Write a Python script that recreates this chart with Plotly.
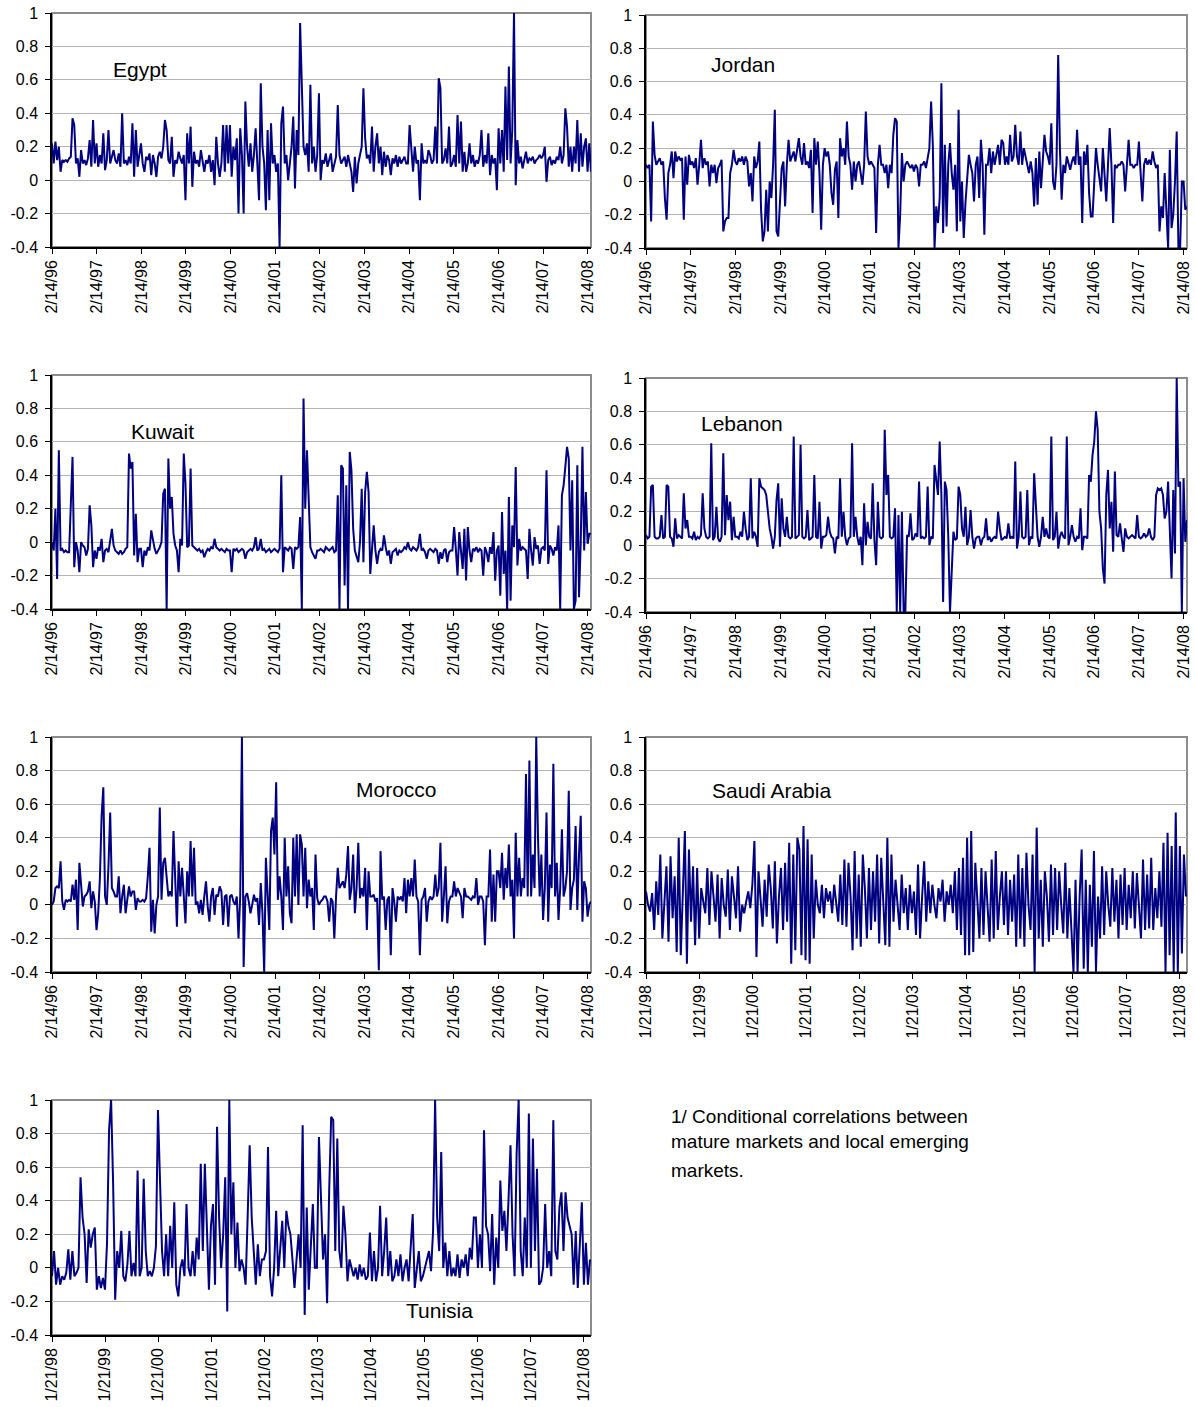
import pandas as pd
import plotly.graph_objects as go

# conditional correlations, one value every 2 weeks from 2/14/96 (26 per year)
egypt = [0.22, 0.1, 0.23, 0.12, 0.2, 0.05, 0.12, 0.11, 0.12, 0.11, 0.13, 0.14, 0.37, 0.33, 0.1, 0.13, 0.02, 0.18, 0.1, 0.12, 0.09, 0.13, 0.24, 0.08, 0.36, 0.1,
         0.22, 0.08, 0.15, 0.1, 0.28, 0.06, 0.12, 0.3, 0.1, 0.15, 0.18, 0.12, 0.1, 0.16, 0.08, 0.4, 0.1, 0.12, 0.09, 0.14, 0.1, 0.34, 0.02, 0.3, 0.08, 0.15,
         0.22, 0.1, 0.05, 0.14, 0.12, 0.16, 0.03, 0.15, 0.1, 0.02, 0.14, 0.17, 0.13, 0.2, 0.36, 0.3, 0.12, 0.1, 0.26, 0.02, 0.12, 0.1, 0.17, 0.13, 0.1, 0.15,
         -0.12, 0.28, 0.1, 0.32, -0.04, 0.17, 0.1, 0.12, 0.08, 0.18, 0.1, 0.05, 0.12, 0.1, 0.15, 0.05, 0.12, -0.03, 0.26, 0.1, 0.02, 0.1, 0.33, 0.05, 0.33, 0.1,
         0.33, 0.02, 0.2, 0.12, 0.25, -0.2, 0.31, 0.15, -0.2, 0.47, 0.2, 0.08, 0.22, 0.05, 0.15, 0.31, 0.1, -0.12, 0.58, 0.2, 0.1, -0.18, 0.3, -0.12, 0.34, 0.1,
         0.15, 0.05, 0.1, -0.4, 0.34, 0.44, 0.1, 0.15, 0.0, 0.12, 0.2, 0.38, -0.05, 0.3, 0.15, 0.94, 0.52, 0.2, 0.15, 0.22, 0.05, 0.57, 0.1, 0.2, 0.05, 0.15,
         0.52, 0.0, 0.12, 0.1, 0.16, 0.08, 0.12, 0.16, 0.05, 0.1, 0.14, 0.45, 0.15, 0.1, 0.12, 0.14, 0.08, 0.15, 0.1, 0.05, -0.07, 0.14, -0.02, 0.1, 0.15, 0.2,
         0.55, 0.25, 0.13, 0.15, 0.1, 0.32, 0.05, 0.2, 0.28, 0.1, 0.2, 0.03, 0.17, 0.08, 0.15, 0.12, 0.03, 0.13, 0.1, 0.15, 0.08, 0.14, 0.1, 0.12, 0.14, 0.1,
         0.1, 0.33, 0.18, 0.05, 0.2, 0.1, 0.12, -0.12, 0.22, 0.1, 0.12, 0.1, 0.18, 0.15, 0.1, 0.12, 0.32, 0.1, 0.61, 0.55, 0.1, 0.12, 0.19, 0.1, 0.32, 0.08,
         0.1, 0.15, 0.08, 0.39, 0.1, 0.35, 0.05, 0.17, 0.05, 0.1, 0.22, 0.1, 0.15, 0.08, 0.12, 0.1, 0.15, 0.3, 0.08, 0.15, 0.1, 0.28, 0.03, 0.15, 0.1, 0.13,
         -0.06, 0.31, 0.1, 0.3, 0.05, 0.56, 0.12, 0.68, 0.1, 0.3, 1.0, -0.03, 0.24, 0.1, 0.14, 0.07, 0.12, 0.17, 0.1, 0.13, 0.12, 0.14, 0.1, 0.12, 0.13, 0.15,
         0.13, 0.15, 0.2, -0.01, 0.12, 0.14, 0.09, 0.12, 0.1, 0.14, 0.12, 0.2, 0.1, 0.15, 0.43, 0.32, 0.08, 0.2, 0.05, 0.2, 0.1, 0.36, 0.05, 0.28, 0.08, 0.2,
         0.25, 0.05, 0.22, 0.05]

jordan = [0.1, 0.08, 0.1, -0.24, 0.36, 0.16, 0.1, 0.12, 0.14, 0.1, 0.12, -0.1, -0.23, 0.05, 0.1, 0.18, 0.02, 0.18, 0.12, 0.15, 0.13, 0.14, -0.23, 0.15, -0.02, 0.16,
          0.1, 0.12, 0.08, 0.14, -0.02, 0.1, 0.25, 0.08, 0.14, 0.1, 0.12, -0.03, 0.1, 0.05, 0.1, -0.01, 0.08, 0.1, 0.13, -0.3, -0.24, -0.22, -0.22, 0.05, 0.1, 0.19,
          0.12, 0.1, 0.14, 0.12, 0.15, 0.1, 0.15, 0.12, -0.03, 0.05, -0.12, 0.15, 0.08, 0.12, 0.24, -0.17, -0.36, -0.3, -0.05, -0.3, 0.0, -0.1, 0.1, 0.43, -0.3, -0.33,
          -0.1, 0.08, 0.12, -0.15, 0.1, 0.25, 0.12, 0.15, 0.18, 0.12, 0.2, 0.26, 0.15, 0.1, 0.23, 0.1, 0.12, 0.08, 0.19, -0.19, 0.26, 0.1, 0.24, 0.05, -0.29, 0.1,
          0.2, 0.15, 0.18, 0.1, -0.07, -0.14, 0.07, 0.12, -0.22, 0.26, 0.15, 0.2, 0.1, 0.36, 0.15, 0.1, -0.05, 0.12, 0.0, 0.1, 0.12, 0.05, -0.02, 0.1, 0.42, 0.15,
          0.1, 0.12, 0.1, 0.08, -0.31, 0.1, 0.22, 0.1, 0.1, 0.05, 0.1, -0.04, 0.1, 0.05, 0.28, 0.38, 0.36, -0.4, -0.2, 0.17, 0.0, 0.1, 0.12, 0.1, 0.08, 0.1,
          0.06, 0.1, 0.08, -0.03, 0.1, 0.1, 0.12, 0.08, 0.13, 0.2, 0.48, 0.22, -0.4, -0.15, -0.25, -0.1, 0.59, -0.31, 0.22, -0.27, 0.1, 0.23, 0.05, -0.05, 0.1, -0.3,
          0.43, -0.24, 0.0, -0.34, -0.13, 0.05, 0.16, 0.1, 0.05, -0.12, 0.1, 0.15, -0.1, 0.25, 0.1, -0.32, 0.1, 0.1, 0.2, 0.05, 0.18, 0.1, 0.15, 0.22, 0.1, 0.25,
          0.23, 0.1, 0.15, 0.1, 0.28, 0.12, 0.15, 0.34, 0.15, 0.1, 0.3, 0.1, 0.2, 0.15, 0.1, 0.05, 0.12, 0.05, -0.15, 0.14, -0.14, 0.18, -0.04, 0.1, 0.28, 0.18,
          0.15, 0.1, 0.35, 0.0, -0.05, 0.1, 0.76, 0.2, -0.11, 0.1, 0.05, 0.15, 0.1, 0.07, 0.12, 0.15, 0.1, 0.31, 0.1, 0.15, -0.25, 0.18, 0.1, 0.22, -0.07, -0.21,
          -0.21, 0.05, 0.2, 0.1, 0.0, -0.06, 0.2, 0.05, -0.12, 0.1, 0.32, 0.1, -0.25, 0.1, 0.08, 0.1, 0.1, 0.12, 0.1, -0.06, 0.12, 0.25, 0.1, 0.1, 0.08, 0.1,
          0.1, 0.24, 0.05, -0.12, 0.1, 0.14, 0.1, 0.13, 0.1, 0.18, 0.12, 0.08, 0.1, -0.3, -0.15, -0.22, 0.05, -0.2, -0.4, 0.19, -0.28, -0.2, 0.0, 0.3, -0.4, -0.4,
          0.0, 0.0, -0.17, -0.15]

kuwait = [0.0, -0.05, 0.2, -0.22, 0.55, -0.05, -0.04, -0.06, -0.05, -0.06, -0.06, 0.29, 0.51, -0.15, 0.0, -0.05, -0.18, 0.0, -0.02, -0.03, -0.08, -0.04, 0.22, 0.1, -0.15, -0.05,
          -0.1, -0.03, -0.05, 0.02, -0.12, -0.05, -0.04, -0.06, 0.0, 0.08, -0.02, -0.05, -0.06, -0.07, -0.05, -0.07, -0.06, -0.04, -0.03, 0.53, 0.44, 0.48, -0.08, 0.17, -0.12, -0.04,
          -0.04, -0.15, -0.05, -0.08, -0.03, -0.05, 0.07, 0.0, -0.04, -0.07, -0.05, -0.03, 0.0, 0.29, 0.32, -0.4, 0.5, 0.2, 0.27, 0.05, -0.02, -0.05, -0.18, 0.02, -0.02, 0.53,
          0.35, -0.03, -0.02, 0.44, -0.02, -0.03, -0.04, -0.05, -0.04, -0.06, -0.05, -0.09, -0.06, -0.04, -0.05, -0.03, -0.04, 0.02, -0.03, -0.04, -0.05, -0.04, -0.05, -0.06, -0.04, -0.05,
          -0.05, -0.18, -0.04, -0.05, -0.04, -0.06, -0.05, -0.04, -0.05, -0.1, -0.06, -0.05, -0.04, -0.05, -0.03, 0.03, -0.05, -0.04, 0.02, -0.05, -0.04, -0.06, -0.05, -0.04, -0.06, -0.05,
          -0.04, -0.05, -0.06, -0.04, 0.4, -0.18, -0.03, -0.04, -0.05, -0.03, -0.04, -0.16, -0.03, -0.04, -0.03, 0.15, -0.4, 0.86, 0.2, 0.55, 0.2, -0.03, -0.06, -0.08, -0.1, -0.05,
          -0.05, -0.04, -0.05, -0.06, -0.03, -0.04, -0.05, -0.04, -0.03, -0.06, -0.05, 0.28, -0.4, 0.46, 0.44, -0.26, 0.34, -0.4, 0.54, 0.43, 0.08, -0.05, -0.08, -0.12, 0.0, 0.32,
          -0.12, 0.3, 0.42, 0.3, -0.19, -0.04, 0.1, -0.05, -0.13, -0.06, -0.04, -0.05, 0.04, -0.03, -0.08, -0.05, -0.13, -0.06, -0.05, -0.04, -0.08, -0.05, -0.06, -0.05, -0.03, -0.04,
          0.0, -0.04, -0.05, -0.03, -0.04, -0.05, -0.03, 0.05, -0.05, -0.04, -0.06, -0.1, -0.05, -0.04, -0.05, -0.06, -0.04, -0.05, -0.13, -0.06, -0.1, -0.05, -0.04, -0.12, -0.06, -0.05,
          -0.05, 0.09, -0.04, -0.2, 0.06, -0.05, -0.16, 0.08, -0.23, 0.09, -0.05, -0.12, -0.04, -0.05, -0.03, -0.06, -0.04, -0.05, -0.2, -0.03, -0.06, -0.12, -0.03, -0.07, 0.06, -0.23,
          -0.05, -0.02, -0.32, 0.18, -0.19, -0.05, -0.4, 0.27, -0.35, 0.1, -0.03, 0.45, -0.14, 0.02, -0.05, -0.03, -0.04, -0.05, -0.22, 0.08, -0.05, -0.14, 0.03, -0.04, -0.02, -0.13,
          -0.04, -0.03, -0.05, 0.43, -0.13, -0.02, -0.04, -0.08, -0.03, -0.05, 0.1, -0.4, 0.28, 0.34, 0.45, 0.57, 0.5, -0.05, 0.37, -0.4, -0.35, 0.46, -0.33, 0.0, 0.57, -0.05,
          0.3, -0.01, 0.05, 0.05]

lebanon = [0.06, 0.04, 0.05, 0.35, 0.36, 0.05, 0.04, 0.04, 0.05, 0.18, 0.04, 0.05, 0.36, 0.35, 0.05, 0.04, -0.01, 0.16, 0.04, 0.06, 0.05, 0.04, 0.31, 0.1, 0.15, 0.05,
           0.05, 0.04, 0.08, 0.03, 0.05, 0.04, 0.06, 0.31, 0.1, 0.05, 0.04, 0.05, 0.61, 0.03, 0.05, 0.23, 0.04, 0.02, 0.05, 0.55, 0.06, 0.3, 0.15, 0.26, 0.03, 0.17,
           0.05, 0.05, 0.04, 0.08, 0.05, 0.2, 0.1, 0.03, 0.05, 0.4, 0.04, 0.08, 0.05, -0.01, 0.4, 0.35, 0.34, 0.33, 0.3, 0.2, 0.1, 0.05, -0.02, 0.05, 0.27, 0.37,
           -0.01, 0.28, 0.1, 0.05, 0.17, 0.05, 0.04, 0.05, 0.65, 0.04, 0.05, 0.06, 0.6, 0.05, 0.04, 0.05, 0.21, 0.03, 0.04, 0.05, 0.42, 0.05, 0.04, 0.26, -0.02, 0.05,
           0.05, 0.06, 0.17, 0.08, 0.05, 0.04, -0.05, 0.05, 0.04, 0.4, 0.05, 0.2, 0.05, 0.0, 0.04, 0.05, 0.61, 0.05, 0.17, 0.05, 0.0, 0.05, -0.12, 0.25, 0.0, 0.14,
           0.05, 0.04, 0.37, 0.03, -0.12, 0.26, 0.05, 0.04, 0.05, 0.69, 0.3, 0.42, 0.05, 0.04, 0.05, 0.22, -0.4, 0.18, -0.4, 0.2, -0.4, -0.4, 0.06, 0.05, 0.19, 0.03,
           0.04, 0.07, 0.05, 0.38, 0.04, 0.05, 0.04, 0.05, 0.35, 0.0, 0.05, 0.04, 0.48, 0.4, 0.3, 0.62, 0.3, -0.34, 0.38, 0.33, 0.05, -0.4, -0.1, 0.08, 0.03, 0.04,
           0.35, 0.3, 0.1, 0.05, 0.23, 0.0, 0.05, 0.21, 0.05, -0.02, 0.04, 0.05, 0.05, 0.0, 0.04, 0.05, 0.16, 0.03, 0.05, 0.02, 0.04, 0.05, 0.04, 0.2, 0.1, 0.03,
           0.04, 0.05, 0.04, 0.13, 0.04, 0.05, 0.04, 0.5, -0.02, 0.05, 0.32, 0.05, 0.04, 0.05, 0.33, 0.0, 0.05, 0.04, 0.43, 0.2, 0.05, -0.01, 0.05, 0.17, 0.05, 0.1,
           0.05, 0.04, 0.65, 0.03, 0.05, 0.2, -0.02, 0.05, 0.08, 0.05, 0.04, 0.65, 0.0, 0.05, 0.12, 0.05, 0.02, 0.05, 0.04, 0.22, -0.03, 0.05, 0.05, 0.04, 0.42, 0.38,
           0.54, 0.62, 0.8, 0.69, 0.2, 0.1, -0.14, -0.23, 0.3, 0.45, 0.1, 0.26, -0.04, 0.44, 0.06, 0.05, 0.13, 0.04, -0.04, 0.1, 0.05, 0.04, 0.05, 0.06, 0.05, 0.04,
           0.18, 0.05, 0.04, 0.05, 0.07, 0.05, 0.06, 0.1, 0.05, 0.03, 0.05, 0.3, 0.34, 0.33, 0.34, 0.3, 0.16, 0.2, 0.38, 0.07, -0.2, 0.33, -0.05, 1.0, 0.35, 0.38,
           -0.4, 0.4, 0.02, 0.15]

morocco = [0.0, 0.02, 0.1, 0.11, 0.1, 0.26, 0.02, -0.03, 0.03, 0.02, 0.03, 0.02, 0.12, 0.03, 0.15, -0.15, 0.25, 0.1, -0.01, 0.05, 0.06, 0.08, 0.14, -0.02, 0.08, 0.02,
           -0.15, -0.05, 0.16, 0.53, 0.7, 0.05, 0.0, 0.23, 0.55, 0.1, 0.08, 0.05, 0.05, 0.17, -0.05, 0.05, 0.12, -0.05, 0.05, 0.11, 0.05, 0.08, 0.08, -0.03, 0.04, 0.02,
           0.02, 0.03, 0.02, 0.04, 0.17, 0.34, -0.16, 0.03, -0.17, 0.0, 0.05, 0.58, 0.03, 0.25, 0.28, 0.15, 0.05, 0.08, 0.05, 0.44, 0.08, -0.13, 0.26, 0.05, 0.22, 0.05,
           -0.11, 0.2, 0.05, 0.38, 0.05, 0.34, 0.0, 0.02, -0.05, 0.03, -0.06, 0.05, 0.14, -0.01, -0.1, 0.05, 0.1, -0.06, 0.06, 0.05, 0.11, 0.08, -0.12, 0.05, 0.06, -0.13,
           0.05, 0.06, 0.02, 0.0, 0.05, -0.2, 0.05, 1.0, -0.37, 0.05, 0.07, 0.02, -0.05, 0.0, 0.06, 0.02, 0.04, -0.12, 0.13, -0.05, -0.4, 0.28, 0.1, -0.15, 0.44, 0.52,
           0.3, 0.73, 0.03, 0.17, 0.05, -0.15, 0.4, 0.05, 0.23, -0.05, -0.11, 0.4, 0.05, 0.42, 0.0, 0.42, 0.36, 0.05, 0.34, -0.02, 0.15, 0.05, 0.1, -0.15, 0.3, 0.04,
           0.0, 0.02, 0.03, 0.05, 0.05, 0.02, -0.1, 0.04, 0.02, -0.2, 0.05, 0.22, 0.1, 0.12, 0.14, 0.1, 0.18, 0.35, 0.03, 0.1, 0.3, -0.05, 0.1, 0.37, 0.04, 0.1,
           0.05, 0.22, -0.15, 0.2, 0.05, 0.05, 0.06, 0.02, 0.04, -0.39, 0.32, 0.03, 0.05, -0.15, 0.03, 0.05, -0.3, 0.1, 0.02, -0.1, 0.05, 0.03, 0.05, 0.02, 0.16, -0.05,
           0.15, 0.05, 0.16, 0.05, 0.27, 0.05, 0.02, -0.3, 0.03, 0.05, 0.1, -0.1, 0.02, 0.05, 0.03, 0.05, 0.18, 0.05, 0.1, 0.37, -0.1, 0.05, 0.23, -0.11, 0.02, 0.05,
           0.05, 0.14, 0.05, 0.1, 0.08, 0.05, -0.08, 0.1, 0.05, 0.05, 0.04, 0.03, 0.05, 0.04, 0.16, 0.0, 0.05, 0.05, 0.02, -0.24, 0.05, 0.05, 0.33, -0.1, 0.18, -0.1,
           0.2, 0.2, 0.1, 0.31, 0.03, 0.22, 0.1, 0.36, 0.05, 0.15, -0.2, 0.43, 0.05, 0.28, 0.05, 0.16, 0.1, 0.78, 0.05, 0.86, 0.05, 0.3, 0.1, 1.0, 0.41, 0.05,
           0.3, -0.09, 0.1, 0.55, -0.1, 0.24, 0.1, 0.84, 0.05, 0.25, -0.09, 0.1, 0.45, 0.05, 0.1, 0.2, 0.68, -0.03, 0.1, 0.15, 0.47, -0.03, 0.3, 0.53, -0.1, 0.14,
           0.1, -0.07, 0.0, 0.02]

# one value every 2 weeks from 1/21/98
saudi = [0.08, 0.0, -0.04, 0.07, -0.15, 0.14, -0.06, 0.3, -0.2, 0.05, 0.23, -0.22, 0.29, -0.08, 0.17, -0.28, 0.4, -0.3, 0.1, 0.44, -0.35, 0.33, -0.1, 0.23, -0.24, 0.22,
         -0.2, 0.1, 0.02, -0.05, 0.22, -0.12, 0.2, 0.05, -0.1, 0.18, -0.2, 0.16, 0.0, -0.07, 0.21, -0.15, 0.17, 0.05, -0.08, 0.23, -0.16, 0.0, -0.05, 0.02, 0.08, -0.02,
         0.12, 0.38, -0.31, 0.2, 0.0, -0.13, 0.15, -0.07, 0.24, 0.1, -0.14, 0.26, -0.23, 0.05, 0.22, -0.15, 0.25, -0.1, 0.37, -0.35, 0.3, -0.27, 0.4, 0.33, -0.3, 0.47,
         -0.33, 0.39, -0.35, 0.3, -0.2, 0.15, 0.0, -0.05, 0.12, -0.08, 0.1, 0.02, 0.08, -0.05, 0.12, 0.0, -0.1, 0.18, -0.12, 0.27, -0.13, 0.25, 0.05, -0.27, 0.32, -0.2,
         0.18, -0.25, 0.3, 0.1, -0.2, 0.22, -0.15, 0.2, -0.1, 0.3, -0.23, 0.28, 0.05, -0.24, 0.4, -0.25, 0.3, -0.1, 0.15, 0.0, -0.15, 0.18, -0.05, 0.1, -0.15, 0.12,
         -0.05, 0.08, -0.18, 0.24, -0.2, 0.05, 0.26, -0.1, 0.14, -0.05, 0.12, 0.0, -0.08, 0.1, 0.02, 0.15, -0.1, 0.08, 0.0, 0.12, -0.05, 0.2, -0.15, 0.22, -0.18, 0.28,
         -0.3, 0.4, -0.3, 0.44, -0.28, 0.25, 0.05, -0.2, 0.22, -0.18, 0.2, 0.0, -0.22, 0.27, -0.2, 0.32, -0.15, 0.05, 0.2, -0.12, 0.2, -0.18, 0.15, -0.1, 0.18, -0.25,
         0.3, -0.2, 0.22, -0.25, 0.31, 0.0, -0.15, 0.3, -0.4, 0.46, -0.2, 0.15, -0.25, 0.2, 0.05, -0.22, 0.24, -0.18, 0.22, -0.15, 0.2, 0.0, -0.17, 0.25, -0.2, 0.1,
         -0.12, -0.4, 0.15, -0.4, 0.05, 0.33, -0.38, 0.15, -0.4, 0.12, -0.25, 0.32, -0.4, 0.05, -0.2, 0.23, -0.18, 0.2, 0.0, -0.13, 0.22, -0.1, 0.15, -0.2, 0.18, -0.12,
         0.22, -0.15, 0.12, -0.08, 0.2, -0.14, 0.19, 0.0, -0.2, 0.27, -0.15, 0.18, -0.14, 0.28, -0.15, 0.1, -0.08, 0.2, -0.13, 0.37, -0.4, 0.43, -0.3, 0.35, -0.4, 0.55,
         -0.4, 0.35, -0.29, 0.3, 0.05]

tunisia = [-0.05, 0.1, -0.1, 0.0, -0.1, -0.05, -0.07, -0.03, 0.11, -0.07, 0.1, -0.05, -0.03, 0.0, 0.54, 0.3, 0.2, -0.09, 0.23, 0.12, 0.2, 0.24, -0.13, -0.05, -0.12, -0.06,
           -0.13, 0.15, 0.82, 1.0, 0.5, -0.19, 0.1, 0.0, 0.22, -0.05, -0.08, 0.02, 0.22, -0.05, 0.03, -0.05, 0.58, -0.05, 0.0, 0.53, 0.1, -0.05, -0.02, -0.05, 0.0, 0.13,
           0.94, 0.48, 0.1, -0.05, 0.2, -0.05, 0.25, 0.0, 0.39, -0.1, -0.17, 0.0, 0.05, -0.05, 0.38, 0.0, -0.05, 0.1, -0.05, 0.18, 0.05, 0.62, 0.1, 0.62, 0.2, -0.13,
           0.25, 0.38, -0.1, 0.84, 0.3, 0.0, 0.2, 0.54, -0.26, 1.0, 0.2, 0.51, 0.0, 0.27, -0.02, 0.05, 0.0, -0.1, 0.3, 0.73, 0.3, 0.1, -0.1, 0.14, -0.05, 0.05,
           0.05, 0.1, 0.72, -0.05, -0.17, 0.0, 0.34, -0.05, 0.1, 0.28, 0.0, 0.34, 0.25, 0.2, 0.05, -0.12, 0.05, 0.2, 0.0, 0.85, -0.28, 0.36, -0.13, 0.1, 0.38, 0.0,
           0.0, 0.78, 0.4, 0.05, 0.2, -0.21, 0.45, 0.9, 0.88, 0.1, 0.77, 0.1, 0.0, 0.37, 0.2, -0.08, 0.05, 0.0, -0.05, 0.0, -0.07, 0.02, -0.05, 0.0, -0.07, -0.05,
           0.21, -0.08, 0.1, -0.08, 0.0, 0.37, -0.05, 0.1, 0.3, -0.05, 0.1, -0.08, -0.05, 0.05, -0.05, 0.08, -0.08, 0.0, 0.05, -0.08, 0.1, 0.32, -0.12, 0.0, 0.1, -0.08,
           -0.05, 0.0, 0.05, 0.1, -0.02, 0.22, 1.0, 0.3, 0.1, 0.69, 0.0, 0.15, -0.05, 0.1, -0.05, 0.0, -0.05, 0.08, -0.06, 0.05, 0.0, 0.08, -0.05, 0.12, 0.05, 0.3,
           0.3, 0.0, 0.2, 0.0, 0.82, 0.25, 0.2, -0.02, 0.32, -0.1, 0.18, 0.0, 0.52, 0.22, 0.34, 0.1, 0.4, 0.73, 0.2, -0.05, 0.68, 1.0, 0.1, -0.05, 0.3, 0.0,
           0.92, 0.0, 0.77, 0.1, 0.59, -0.1, -0.08, 0.0, 0.38, 0.0, 0.1, -0.05, 0.88, 0.1, 0.05, 0.36, 0.45, 0.1, 0.45, 0.3, 0.25, 0.2, -0.1, 0.22, -0.12, 0.1,
           0.39, -0.1, 0.15, -0.1, 0.05]

ticks_96 = ['2/14/96', '2/14/97', '2/14/98', '2/14/99', '2/14/00', '2/14/01', '2/14/02',
            '2/14/03', '2/14/04', '2/14/05', '2/14/06', '2/14/07', '2/14/08']
ticks_98 = ['1/21/98', '1/21/99', '1/21/00', '1/21/01', '1/21/02', '1/21/03', '1/21/04',
            '1/21/05', '1/21/06', '1/21/07', '1/21/08']
y_ticks = [-0.4, -0.2, 0, 0.2, 0.4, 0.6, 0.8, 1]
y_labels = ['-0.4', '-0.2', '0', '0.2', '0.4', '0.6', '0.8', '1']

W, H = 1195, 1407
FONT = 'Liberation Sans, Arial, sans-serif'
NAVY = '#000080'

# name, values, first date, tick labels, plot box in pixels (left, right, top, bottom), label (x, y)
panels = [
    ('Egypt', egypt, '1996-02-14', ticks_96, (52, 591, 13, 247), (111, 69)),
    ('Jordan', jordan, '1996-02-14', ticks_96, (646, 1187, 15, 248), (709, 65)),
    ('Kuwait', kuwait, '1996-02-14', ticks_96, (52, 591, 375, 609), (129, 431)),
    ('Lebanon', lebanon, '1996-02-14', ticks_96, (646, 1187, 378, 612), (699, 423)),
    ('Morocco', morocco, '1996-02-14', ticks_96, (52, 591, 737, 972), (354, 789)),
    ('Saudi Arabia', saudi, '1998-01-21', ticks_98, (646, 1187, 737, 972), (710, 790)),
    ('Tunisia', tunisia, '1998-01-21', ticks_98, (52, 591, 1100, 1335), (404, 1310)),
]

fig = go.Figure()
layout = dict(width=W, height=H, margin=dict(l=0, r=0, t=0, b=0, autoexpand=False),
              paper_bgcolor='white', plot_bgcolor='white', showlegend=False,
              font=dict(family=FONT, color='black'), annotations=[], shapes=[])

for k, (name, vals, start, tlabels, box, lab) in enumerate(panels, start=1):
    sfx = '' if k == 1 else str(k)
    dates = pd.date_range(start, periods=len(vals), freq='14D')
    tickdates = pd.to_datetime(tlabels, format='%m/%d/%y')
    left, right, top, bottom = box
    fig.add_trace(go.Scatter(x=dates, y=vals, mode='lines', xaxis='x' + sfx, yaxis='y' + sfx,
                             line=dict(color=NAVY, width=2), hoverinfo='skip'))
    layout['xaxis' + sfx] = dict(
        domain=[left / W, right / W], anchor='y' + sfx, type='date', automargin=False,
        range=[start, '2008-03-12'], tickmode='array', tickvals=tickdates, ticktext=tlabels,
        tickangle=-90, ticks='outside', ticklen=5, tickcolor='black', showgrid=False,
        showline=True, linecolor='black', linewidth=1.5, tickfont=dict(size=16), zeroline=False)
    layout['yaxis' + sfx] = dict(
        domain=[1 - bottom / H, 1 - top / H], anchor='x' + sfx, range=[-0.4, 1], automargin=False,
        tickmode='array', tickvals=y_ticks, ticktext=y_labels, ticks='outside', ticklen=5,
        ticklabelstandoff=4, tickcolor='black', showgrid=True, gridcolor='#b4b4b4', gridwidth=1,
        zeroline=False, showline=True, linecolor='black', linewidth=1.5, tickfont=dict(size=16))
    layout['shapes'].append(dict(type='rect', xref='x' + sfx + ' domain', yref='y' + sfx + ' domain',
                                 x0=0, x1=1, y0=0, y1=1, layer='below',
                                 line=dict(color='#8c8c8c', width=2)))
    layout['annotations'].append(dict(text=name, xref='paper', yref='paper', x=lab[0] / W,
                                      y=1 - lab[1] / H, xanchor='left', yanchor='middle',
                                      showarrow=False, font=dict(size=21)))

note_lines = ['1/ Conditional correlations between', 'mature markets and local emerging',
              'markets.']
for line, py in zip(note_lines, [1116, 1141, 1170]):
    layout['annotations'].append(dict(text=line, xref='paper', yref='paper', x=669 / W,
                                      y=1 - py / H, xanchor='left', yanchor='middle',
                                      showarrow=False, font=dict(size=19)))

fig.update_layout(**layout)
# the page's default 8px body margin would push the chart off the window
fig.write_html('out.html', config={'displayModeBar': False},
               post_script="document.body.style.margin='0';")
